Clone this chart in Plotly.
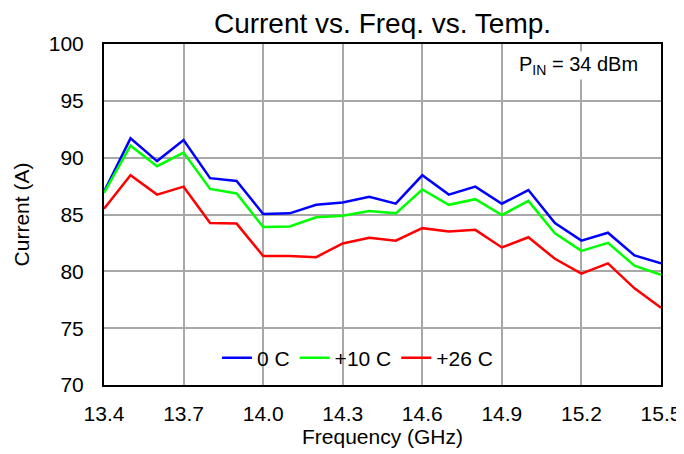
import plotly.graph_objects as go

freq = [13.4, 13.5, 13.6, 13.7, 13.8, 13.9, 14.0, 14.1, 14.2, 14.3, 14.4,
        14.5, 14.6, 14.7, 14.8, 14.9, 15.0, 15.1, 15.2, 15.3, 15.4, 15.5]
cur_0c = [87.0, 91.7, 89.7, 91.55, 88.2, 87.95, 85.05, 85.1, 85.85, 86.05, 86.55,
          85.95, 88.45, 86.75, 87.45, 85.95, 87.15, 84.25, 82.7, 83.4, 81.4, 80.7]
cur_10c = [86.9, 91.05, 89.25, 90.45, 87.25, 86.85, 83.9, 83.95, 84.75, 84.9, 85.3,
           85.1, 87.2, 85.85, 86.35, 84.95, 86.2, 83.35, 81.8, 82.5, 80.5, 79.7]
cur_26c = [85.5, 88.45, 86.75, 87.45, 84.25, 84.2, 81.35, 81.35, 81.25, 82.45, 82.95,
           82.7, 83.8, 83.5, 83.65, 82.1, 83.0, 81.1, 79.8, 80.7, 78.5, 76.8]
series_names = ["0 C", "+10 C", "+26 C"]
series_colors = ["#0000ff", "#00ff00", "#ff0000"]
x_ticks = [13.4, 13.7, 14.0, 14.3, 14.6, 14.9, 15.2, 15.5]
y_ticks = [70, 75, 80, 85, 90, 95, 100]

font = "Liberation Sans, Arial, sans-serif"
fig = go.Figure()
for name, ys, col in zip(series_names, [cur_0c, cur_10c, cur_26c], series_colors):
    fig.add_trace(go.Scatter(x=freq, y=ys, mode="lines", name=name,
                             line=dict(color=col, width=2.5)))

# page body has an 8px margin, so the figure is sized/offset to compensate
fig.update_layout(
    width=676, height=446,
    margin=dict(l=96, r=23, t=36, b=69, autoexpand=False),
    paper_bgcolor="white", plot_bgcolor="white",
    font=dict(family=font, color="black", size=21),
    title=dict(text="Current vs. Freq. vs. Temp.", xref="paper", x=0.5, xanchor="center",
               yref="container", y=0.966, yanchor="middle", font=dict(size=28, family=font)),
    legend=dict(orientation="h", x=0.455, xanchor="center", y=0.079, yanchor="middle",
                bgcolor="rgba(0,0,0,0)", font=dict(size=21, family=font),
                itemwidth=30, tracegroupgap=0),
    showlegend=True,
)
fig.update_xaxes(range=[13.4, 15.5], tickvals=x_ticks,
                 ticktext=[f"{v:.1f}" for v in x_ticks],
                 showgrid=True, gridcolor="#a8a8a8", gridwidth=1.5,
                 showline=True, linecolor="black", linewidth=2, mirror=True,
                 ticks="", ticklabelstandoff=9, zeroline=False,
                 title=dict(text="Frequency (GHz)", font=dict(size=21), standoff=4),
                 tickfont=dict(size=21))
fig.update_yaxes(range=[70, 100], tickvals=y_ticks,
                 showgrid=True, gridcolor="#a8a8a8", gridwidth=1.5,
                 showline=True, linecolor="black", linewidth=2, mirror=True,
                 ticks="", ticklabelstandoff=14, zeroline=False,
                 title=dict(text="Current (A)", font=dict(size=21), standoff=13),
                 tickfont=dict(size=21))
fig.add_annotation(xref="paper", yref="paper", x=0.962, y=0.938,
                   xanchor="right", yanchor="middle", showarrow=False,
                   text="P<sub>IN</sub> = 34 dBm", font=dict(size=20, family=font),
                   bgcolor="white")
fig.write_html("out.html")
